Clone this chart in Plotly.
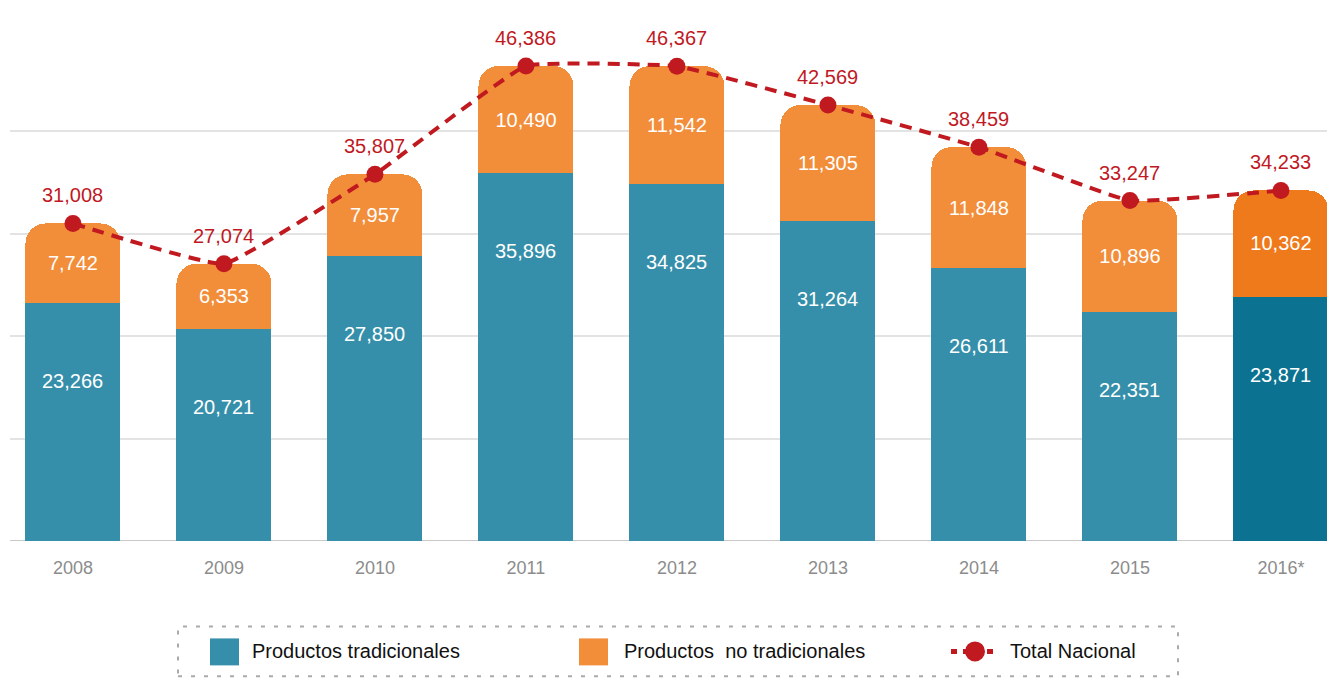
import plotly.graph_objects as go

years = ["2008", "2009", "2010", "2011", "2012", "2013", "2014", "2015", "2016*"]
tradicionales = [23266, 20721, 27850, 35896, 34825, 31264, 26611, 22351, 23871]
no_tradicionales = [7742, 6353, 7957, 10490, 11542, 11305, 11848, 10896, 10362]
total_nacional = [31008, 27074, 35807, 46386, 46367, 42569, 38459, 33247, 34233]
grid_values = [10000, 20000, 30000, 40000]

BLUE = "#368faa"
BLUE_D = "#0b7391"
ORANGE = "#f28d3a"
ORANGE_D = "#ef7a1c"
RED = "#c0191f"
FONT = "Liberation Sans, Arial, Helvetica, sans-serif"

blue_colors = [BLUE] * (len(years) - 1) + [BLUE_D]
orange_colors = [ORANGE] * (len(years) - 1) + [ORANGE_D]

OFF = 8  # page body margin
W, H = 1335 - OFF, 682 - OFF
ML = 2
BASE = 541.5 - OFF
MB = H - BASE
PW = W - ML
PH = BASE


def px(x):
    return (x - OFF - ML) / PW


def py(y):
    return (PH - (y - OFF)) / PH


fig = go.Figure()
fig.add_trace(go.Bar(
    x=years, y=tradicionales, name="Productos tradicionales",
    marker=dict(color=blue_colors, line=dict(width=0)),
    showlegend=False,
))
fig.add_trace(go.Bar(
    x=years, y=no_tradicionales, name="Productos  no tradicionales",
    marker=dict(color=orange_colors, line=dict(width=0), cornerradius=20),
    text=[f"{v:,}" for v in no_tradicionales], textposition="inside",
    insidetextanchor="middle", textangle=0, constraintext="none",
    textfont=dict(color="white", size=20, family=FONT),
    showlegend=False,
))
fig.add_trace(go.Scatter(
    x=years, y=total_nacional, name="Total Nacional",
    mode="lines+markers",
    line=dict(color=RED, width=4, dash="12px,8px", shape="spline", smoothing=0.3),
    marker=dict(color=RED, size=17),
    showlegend=False, cliponaxis=False,
))

annotations = []
for i, v in enumerate(tradicionales):
    annotations.append(dict(
        x=i, y=v, xref="x", yref="y", text=f"{v:,}", showarrow=False,
        yshift=-78, font=dict(color="white", size=20, family=FONT),
    ))
for i, v in enumerate(total_nacional):
    annotations.append(dict(
        x=i, y=v, xref="x", yref="y", text=f"{v:,}", showarrow=False,
        yshift=28, font=dict(color=RED, size=20, family=FONT),
    ))

shapes = []
shapes.append(dict(type="rect", xref="paper", yref="paper",
                   x0=px(178), x1=px(1178), y0=py(677), y1=py(627),
                   line=dict(color="#aaaaaa", width=2, dash="4px,9px"),
                   fillcolor="rgba(0,0,0,0)"))
shapes.append(dict(type="rect", xref="paper", yref="paper",
                   x0=px(210), x1=px(239), y0=py(666), y1=py(639),
                   line=dict(width=0), fillcolor=BLUE))
shapes.append(dict(type="rect", xref="paper", yref="paper",
                   x0=px(579), x1=px(608), y0=py(666), y1=py(639),
                   line=dict(width=0), fillcolor=ORANGE))
shapes.append(dict(type="line", xref="paper", yref="paper",
                   x0=px(951), x1=px(995), y0=py(652), y1=py(652),
                   line=dict(color=RED, width=5, dash="6px,6px")))
shapes.append(dict(type="circle", xref="paper", yref="paper",
                   x0=px(965), x1=px(985), y0=py(662), y1=py(642),
                   line=dict(width=0), fillcolor=RED))
shapes.append(dict(type="line", xref="paper", yref="y",
                   x0=0, x1=1, y0=0, y1=0, layer="below",
                   line=dict(color="#c8c8c8", width=2)))

for txt, x in [("Productos tradicionales", 250), ("Productos  no tradicionales", 622), ("Total Nacional", 1008)]:
    annotations.append(dict(
        x=px(x), y=py(652), xref="paper", yref="paper", text=txt,
        showarrow=False, xanchor="left", yanchor="middle",
        font=dict(color="#111111", size=20, family=FONT),
    ))

fig.update_layout(
    width=W, height=H,
    margin=dict(l=ML, r=0, t=0, b=MB),
    barmode="stack", bargap=0.371,
    plot_bgcolor="white", paper_bgcolor="white",
    font=dict(family=FONT),
    xaxis=dict(type="category", range=[-0.417, 8.358], showgrid=False,
               showline=False, ticks="", zeroline=False,
               tickfont=dict(color="#8c8c8c", size=18, family=FONT),
               ticklabelstandoff=14),
    yaxis=dict(range=[0, BASE / 10.25 * 1000], tickvals=grid_values, showgrid=True,
               gridcolor="#e3e3e3", gridwidth=1.5, zeroline=False,
               showticklabels=False, ticks="", showline=False),
    annotations=annotations, shapes=shapes,
    showlegend=False,
)

fig.write_html("out.html")
